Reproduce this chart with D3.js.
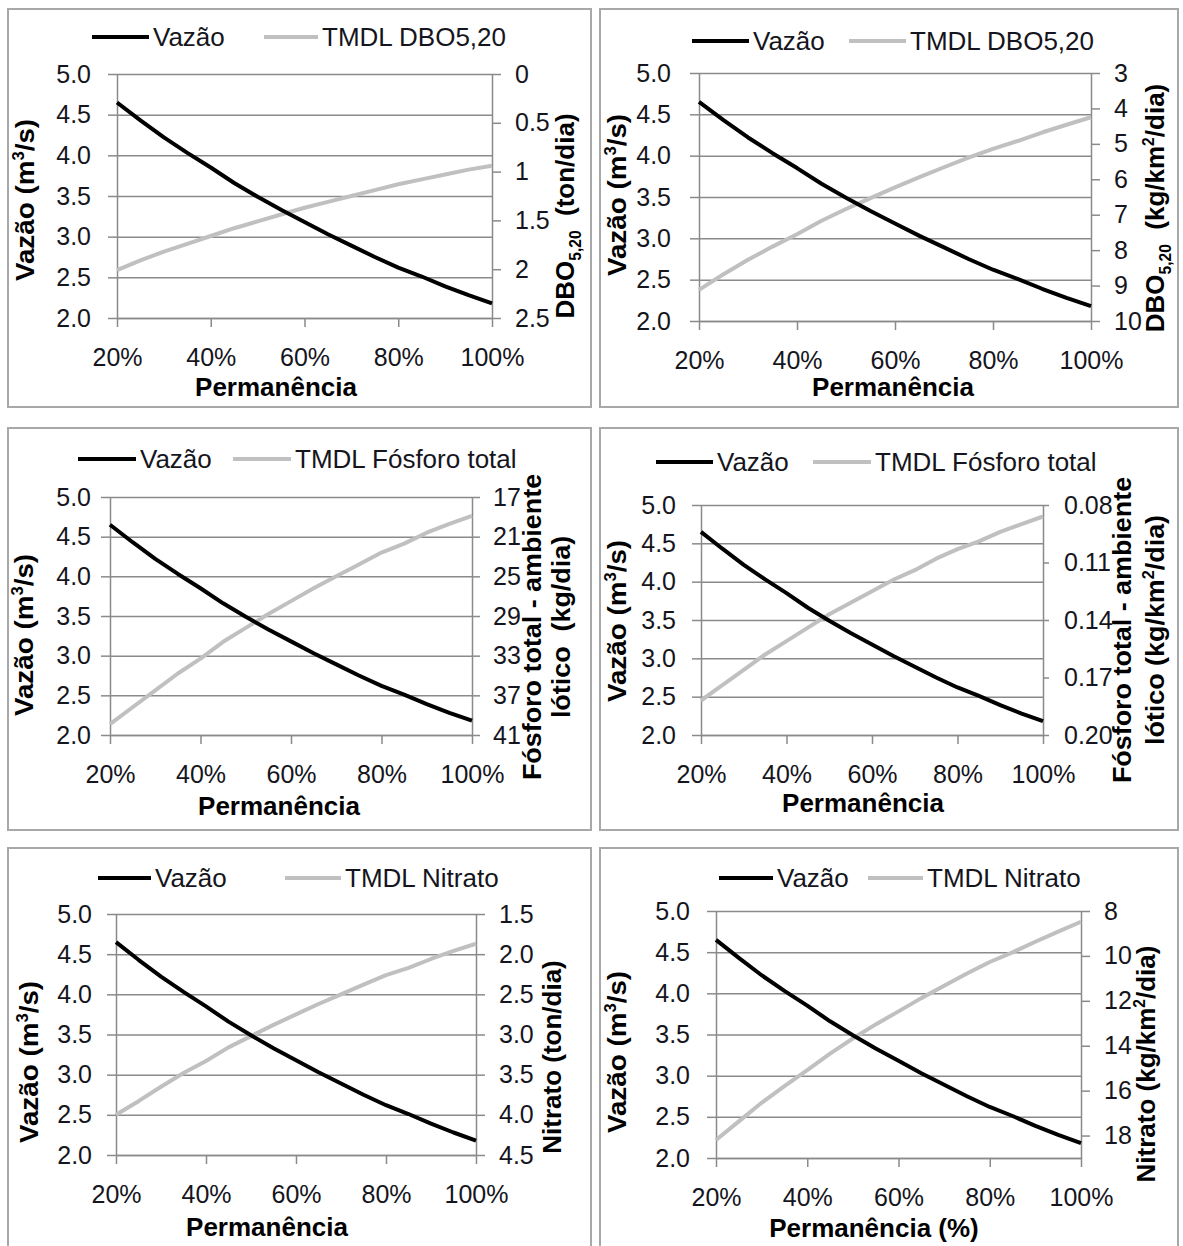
<!DOCTYPE html>
<html>
<head>
<meta charset="utf-8">
<script src="https://cdn.jsdelivr.net/npm/d3@7"></script>
<style>
body { margin: 0; background: #fff; }
svg { display: block; font-family: "Liberation Sans", Arial, sans-serif; }
</style>
</head>
<body>
<div id="chart"></div>
<script>
// values, 5% steps of permanência
const permanencia = [20, 25, 30, 35, 40, 45, 50, 55, 60, 65, 70, 75, 80, 85, 90, 95, 100]
const vazao = [4.65, 4.43, 4.22, 4.03, 3.85, 3.66, 3.49, 3.33, 3.18, 3.03, 2.89, 2.75, 2.62, 2.51, 2.39, 2.28, 2.18]

const tmdlDbo = [2.01, 1.91, 1.82, 1.74, 1.66, 1.58, 1.51, 1.44, 1.37, 1.31, 1.25, 1.19, 1.13, 1.08, 1.03, 0.98, 0.94]
const tmdlDboArea = [9.12, 8.68, 8.27, 7.90, 7.55, 7.17, 6.84, 6.53, 6.23, 5.94, 5.66, 5.39, 5.14, 4.92, 4.68, 4.46, 4.25]
const tmdlFosforo = [39.9, 38.2, 36.5, 34.8, 33.3, 31.6, 30.2, 28.8, 27.5, 26.2, 25.0, 23.8, 22.6, 21.7, 20.6, 19.7, 18.9]
const tmdlFosforoArea = [0.182, 0.174, 0.166, 0.158, 0.151, 0.144, 0.137, 0.131, 0.125, 0.119, 0.114, 0.108, 0.103, 0.099, 0.094, 0.090, 0.086]
const tmdlNitrato = [4.00, 3.83, 3.65, 3.48, 3.33, 3.16, 3.02, 2.88, 2.75, 2.62, 2.50, 2.38, 2.26, 2.17, 2.06, 1.96, 1.87]
const tmdlNitratoArea = [18.2, 17.37, 16.54, 15.80, 15.09, 14.35, 13.68, 13.05, 12.47, 11.88, 11.33, 10.78, 10.27, 9.84, 9.37, 8.92, 8.48]

// tick labels
const xTicks = [20, 40, 60, 80, 100]
const vazaoTicks = [2.0, 2.5, 3.0, 3.5, 4.0, 4.5, 5.0]
const dboTicks = [0, 0.5, 1, 1.5, 2, 2.5]
const dboAreaTicks = [3, 4, 5, 6, 7, 8, 9, 10]
const fosforoTicks = [17, 21, 25, 29, 33, 37, 41]
const fosforoAreaTicks = [0.08, 0.11, 0.14, 0.17, 0.20]
const nitratoTicks = [1.5, 2.0, 2.5, 3.0, 3.5, 4.0, 4.5]
const nitratoAreaTicks = [8, 10, 12, 14, 16, 18]

const gridColor = "#8a8a8a"
const grayLine = "#c0c0c0"
const textColor = "#151520"

// each panel: the series it plots plus where it sits on the page
const panels = [
  { frame: [8, 9, 591, 407], x0: 117, x1: 492, yT: 74, yB: 318,
    tmdl: tmdlDbo, rDomain: [0, 2.5], rTicks: dboTicks, rFmt: d => String(d), rTick: 9, rPad: 14,
    legendY: 37, legBlack: [92, 149], legGray: [264, 318], legendName: "TMDL DBO5,20",
    lPad: 17, leftTitle: [34, 200], xTitle: [276, 387, "Permanência"],
    rightTitle: { x: [574], y: 216, stretch: 1, lines: [[{t: "DBO"}, {t: "5,20", sub: true}, {t: "  (ton/dia)"}]] } },
  { frame: [600, 9, 1178, 407], x0: 699, x1: 1091, yT: 73, yB: 321,
    tmdl: tmdlDboArea, rDomain: [3, 10], rTicks: dboAreaTicks, rFmt: d => String(d), rTick: 9, rPad: 14,
    legendY: 41, legBlack: [692, 749], legGray: [849, 906], legendName: "TMDL DBO5,20",
    lPad: 19, leftTitle: [626, 195], xTitle: [893, 387, "Permanência"],
    rightTitle: { x: [1164], y: 208, stretch: 1, lines: [[{t: "DBO"}, {t: "5,20", sub: true}, {t: "  (kg/km"}, {t: "2", sup: true}, {t: "/dia)"}]] } },
  { frame: [8, 428, 591, 830], x0: 110, x1: 472, yT: 497, yB: 735,
    tmdl: tmdlFosforo, rDomain: [17, 41], rTicks: fosforoTicks, rFmt: d => String(d), rTick: 8, rPad: 13,
    legendY: 459, legBlack: [78, 136], legGray: [233, 291], legendName: "TMDL Fósforo total",
    lPad: 10, leftTitle: [33, 635], xTitle: [279, 806, "Permanência"],
    rightTitle: { x: [541, 570], y: 627, stretch: 1.035, lines: [[{t: "Fósforo total - ambiente"}], [{t: "lótico  (kg/dia)"}]] } },
  { frame: [600, 428, 1178, 830], x0: 701, x1: 1043, yT: 505, yB: 735,
    tmdl: tmdlFosforoArea, rDomain: [0.08, 0.20], rTicks: fosforoAreaTicks, rFmt: d3.format(".2f"), rTick: 6, rPad: 15,
    legendY: 462, legBlack: [656, 713], legGray: [813, 871], legendName: "TMDL Fósforo total",
    lPad: 16, leftTitle: [626, 621], xTitle: [863, 803, "Permanência"],
    rightTitle: { x: [1131, 1164], y: 630, stretch: 1.035, lines: [[{t: "Fósforo total - ambiente"}], [{t: "lótico (kg/km"}, {t: "2", sup: true}, {t: "/dia)"}]] } },
  { frame: [8, 848, 591, 1262], x0: 116, x1: 476, yT: 914, yB: 1155,
    tmdl: tmdlNitrato, rDomain: [1.5, 4.5], rTicks: nitratoTicks, rFmt: d3.format(".1f"), rTick: 9, rPad: 14,
    legendY: 878, legBlack: [98, 151], legGray: [285, 341], legendName: "TMDL Nitrato",
    lPad: 15, leftTitle: [38, 1062], xTitle: [267, 1227, "Permanência"],
    rightTitle: { x: [561], y: 1057, stretch: 1, lines: [[{t: "Nitrato (ton/dia)"}]] } },
  { frame: [600, 848, 1178, 1262], x0: 716, x1: 1081, yT: 911, yB: 1158,
    tmdl: tmdlNitratoArea, rDomain: [8, 19], rTicks: nitratoAreaTicks, rFmt: d => String(d), rTick: 9, rPad: 14,
    legendY: 878, legBlack: [719, 773], legGray: [868, 923], legendName: "TMDL Nitrato",
    lPad: 17, leftTitle: [626, 1052], xTitle: [874, 1228, "Permanência (%)"],
    rightTitle: { x: [1155], y: 1064, stretch: 1, lines: [[{t: "Nitrato (kg/km"}, {t: "2", sup: true}, {t: "/dia)"}]] } }
]

const svg = d3.select("#chart").append("svg")
  .attr("width", 1183)
  .attr("height", 1246)

// text with sub/superscript pieces
const richText = (sel, parts, size) => {
  let shift = 0
  parts.forEach(p => {
    const want = p.sub ? size * 0.28 : p.sup ? -size * 0.38 : 0
    const ts = sel.append("tspan").text(p.t).attr("dy", want - shift)
    if (p.sub || p.sup) ts.attr("font-size", size * 0.6)
    shift = want
  })
}

const styleAxis = (g) => {
  g.selectAll(".domain").attr("stroke", gridColor).attr("stroke-width", 1.5)
  g.selectAll(".tick line").attr("stroke", gridColor).attr("stroke-width", 1.5)
  g.selectAll(".tick text").attr("fill", textColor).attr("font-size", 25)
}

panels.forEach(p => {
  const [fx0, fy0, fx1, fy1] = p.frame
  svg.append("rect")
    .attr("x", fx0).attr("y", fy0)
    .attr("width", fx1 - fx0).attr("height", fy1 - fy0)
    .attr("fill", "none").attr("stroke", "#a8a8a8").attr("stroke-width", 2)

  const x = d3.scaleLinear().domain([20, 100]).range([p.x0, p.x1])
  const y = d3.scaleLinear().domain([2, 5]).range([p.yB, p.yT])
  const y2 = d3.scaleLinear().domain(p.rDomain).range([p.yT, p.yB])

  // gridlines
  svg.append("g")
    .attr("transform", `translate(${p.x0},0)`)
    .call(d3.axisLeft(y).tickValues(vazaoTicks).tickSize(-(p.x1 - p.x0)).tickFormat(""))
    .call(g => g.select(".domain").remove())
    .call(g => g.selectAll(".tick line").attr("stroke", gridColor).attr("stroke-width", 1.5))

  svg.append("g")
    .attr("transform", `translate(${p.x0},0)`)
    .call(d3.axisLeft(y).tickValues(vazaoTicks).tickSize(9).tickSizeOuter(0)
      .tickPadding(p.lPad).tickFormat(d3.format(".1f")))
    .call(styleAxis)

  svg.append("g")
    .attr("transform", `translate(${p.x1},0)`)
    .call(d3.axisRight(y2).tickValues(p.rTicks).tickSize(p.rTick).tickSizeOuter(0)
      .tickPadding(p.rPad).tickFormat(p.rFmt))
    .call(styleAxis)

  svg.append("g")
    .attr("transform", `translate(0,${p.yB})`)
    .call(d3.axisBottom(x).tickValues(xTicks).tickSize(9).tickSizeOuter(0)
      .tickPadding(21).tickFormat(d => d + "%"))
    .call(styleAxis)

  const data = permanencia.map((d, i) => ({ p: d, q: vazao[i], t: p.tmdl[i] }))

  svg.append("path")
    .datum(data)
    .attr("fill", "none")
    .attr("stroke", grayLine)
    .attr("stroke-width", 4)
    .attr("stroke-linejoin", "round")
    .attr("d", d3.line().x(d => x(d.p)).y(d => y2(d.t)))

  svg.append("path")
    .datum(data)
    .attr("fill", "none")
    .attr("stroke", "#000")
    .attr("stroke-width", 4)
    .attr("stroke-linejoin", "round")
    .attr("d", d3.line().x(d => x(d.p)).y(d => y(d.q)))

  // legend
  const leg = svg.append("g").attr("font-size", 26).attr("fill", textColor)
  leg.append("line").attr("x1", p.legBlack[0]).attr("x2", p.legBlack[1])
    .attr("y1", p.legendY).attr("y2", p.legendY).attr("stroke", "#000").attr("stroke-width", 4)
  leg.append("text").attr("x", p.legBlack[1] + 4).attr("y", p.legendY)
    .attr("dominant-baseline", "central").text("Vazão")
  leg.append("line").attr("x1", p.legGray[0]).attr("x2", p.legGray[1])
    .attr("y1", p.legendY).attr("y2", p.legendY).attr("stroke", grayLine).attr("stroke-width", 4)
  leg.append("text").attr("x", p.legGray[1] + 4).attr("y", p.legendY)
    .attr("dominant-baseline", "central").text(p.legendName)

  // axis titles
  svg.append("text")
    .attr("x", p.xTitle[0]).attr("y", p.xTitle[1])
    .attr("text-anchor", "middle").attr("dominant-baseline", "central")
    .attr("font-size", 26).attr("font-weight", "bold").attr("fill", "#000")
    .text(p.xTitle[2])

  const lt = svg.append("text")
    .attr("transform", `translate(${p.leftTitle[0]},${p.leftTitle[1]}) rotate(-90) scale(1.07,1)`)
    .attr("text-anchor", "middle").attr("dy", "0.36em")
    .attr("font-size", 26).attr("font-weight", "bold").attr("fill", "#000")
  richText(lt, [{t: "Vazão (m"}, {t: "3", sup: true}, {t: "/s)"}], 26)

  p.rightTitle.lines.forEach((line, i) => {
    const rt = svg.append("text")
      .attr("transform", `translate(${p.rightTitle.x[i]},${p.rightTitle.y}) rotate(-90) scale(${p.rightTitle.stretch},1)`)
      .attr("text-anchor", "middle").attr("dy", "0.36em")
      .attr("font-size", 26).attr("font-weight", "bold").attr("fill", "#000")
      .style("white-space", "pre")
    richText(rt, line, 26)
  })
})
</script>
</body>
</html>
